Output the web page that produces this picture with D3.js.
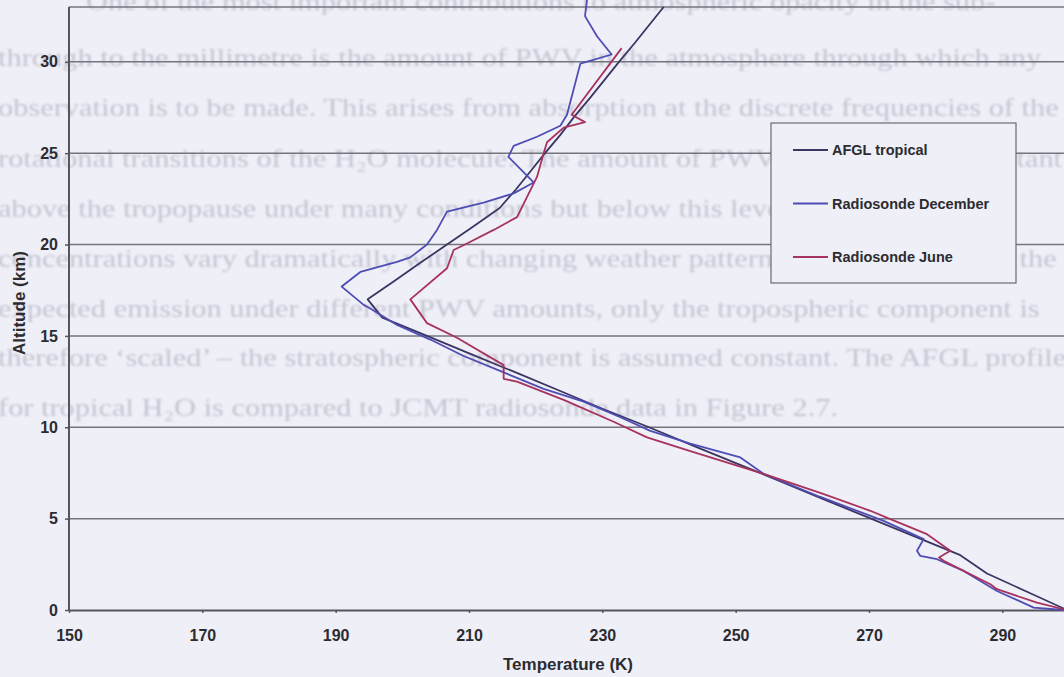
<!DOCTYPE html>
<html>
<head>
<meta charset="utf-8">
<script src="https://cdn.jsdelivr.net/npm/d3@7"></script>
<style>
  html, body { margin: 0; padding: 0; background: #efeff7; overflow: hidden; }
  svg { display: block; }
</style>
</head>
<body>
<svg id="chart" width="1064" height="677"></svg>
<script>
// Temperature profiles: [altitude km, temperature K]
const afglTropical = [
  [0, 299.7], [1, 293.7], [2, 287.7], [3, 283.7], [4, 277.0], [5, 270.3],
  [6, 263.6], [7, 257.0], [8, 250.3], [9, 243.6], [10, 237.0], [11, 230.1],
  [12, 223.6], [13, 217.0], [14, 210.3], [15, 203.7], [16, 197.0], [17, 194.8],
  [18, 198.8], [19, 202.7], [20, 206.7], [21, 210.7], [22, 214.6], [23, 217.0],
  [24, 219.2], [25, 221.4], [26, 223.7], [27, 225.8], [28, 228.1], [29, 230.3],
  [30, 232.5], [31, 234.8], [32, 237.0], [33, 239.2]
];

const radiosondeDecember = [
  [0.0, 299.3], [0.04, 297.7], [0.13, 294.7], [1.04, 289.2], [2.14, 284.2],
  [2.78, 280.2], [2.96, 277.7], [3.24, 277.2], [3.88, 278.2], [4.88, 272.2],
  [6.2, 262.6], [7.45, 254.2], [8.35, 250.7], [9.1, 243.2], [9.8, 237.2],
  [10.55, 232.7], [11.4, 227.2], [12.1, 221.2], [13.0, 215.2], [13.9, 209.2],
  [14.8, 204.2], [15.6, 199.2], [16.5, 195.2], [16.7, 194.2], [17.7, 190.9],
  [18.5, 193.7], [19.05, 199.2], [19.3, 201.2], [20.0, 203.7], [20.8, 205.2],
  [21.8, 206.7], [22.3, 212.2], [22.8, 216.7], [23.4, 219.7], [24.8, 215.9],
  [25.4, 216.7], [25.9, 220.2], [26.5, 223.7], [27.1, 224.7], [29.9, 226.7],
  [30.4, 231.4], [31.4, 229.2], [32.5, 227.4], [33.4, 227.7]
];

const radiosondeJune = [
  [0.0, 299.6], [0.4, 295.2], [1.14, 289.2], [1.41, 288.2], [2.69, 281.2],
  [2.87, 280.5], [3.24, 282.2], [4.15, 278.7], [4.97, 273.2], [5.43, 270.2],
  [6.4, 262.8], [7.45, 254.2], [8.7, 243.2], [9.45, 236.7], [10.3, 231.7],
  [11.5, 224.2], [12.5, 217.2], [12.65, 215.2], [13.4, 215.2], [14.9, 208.2],
  [15.7, 203.7], [17.0, 201.2], [18.7, 206.7], [19.7, 207.7], [20.06, 209.7],
  [20.8, 213.7], [21.5, 217.2], [23.7, 220.2], [25.0, 221.2], [25.6, 221.7],
  [26.4, 224.2], [26.7, 227.4], [27.1, 225.4], [30.75, 232.9]
];

const seriesNames = ["AFGL tropical", "Radiosonde December", "Radiosonde June"];
const seriesColors = ["#3b3563", "#4d4db5", "#a8325e"];

const xTicks = [150, 170, 190, 210, 230, 250, 270, 290];
const yTicks = [0, 5, 10, 15, 20, 25, 30];

// Page text printed behind the figure
const pageLines = [
  "One of the most important contributions to atmospheric opacity in the sub-",
  "through to the millimetre is the amount of PWV in the atmosphere through which any",
  "observation is to be made. This arises from absorption at the discrete frequencies of the",
  "rotational transitions of the H\u2082O molecule. The amount of PWV remains fairly constant",
  "above the tropopause under many conditions but below this level water vapour",
  "concentrations vary dramatically with changing weather patterns. In order to model the",
  "expected emission under different PWV amounts, only the tropospheric component is",
  "therefore \u2018scaled\u2019 \u2013 the stratospheric component is assumed constant. The AFGL profile",
  "for tropical H\u2082O is compared to JCMT radiosonde data in Figure 2.7."
];

const svg = d3.select("#chart");
const W = 1064, H = 677;
const plot = { left: 69, right: 1069, top: 7, bottom: 610 };

const x = d3.scaleLinear().domain([150, 300]).range([plot.left, plot.right]);
const y = d3.scaleLinear().domain([0, 33]).range([plot.bottom, plot.top]);

svg.append("rect").attr("width", W).attr("height", H).attr("fill", "#efeff7");

// soft backdrop text
const defs = svg.append("defs");
defs.append("filter").attr("id", "soft")
  .append("feGaussianBlur").attr("stdDeviation", 0.8);

const lineStarts = [86, -2, -2, -2, -2, -2, -2, -2, -2];
const lineBase = [10, 66, 116, 167, 217, 267, 317, 366, 416];
svg.append("g")
  .attr("filter", "url(#soft)")
  .attr("transform", "scale(1.17,1)")
  .selectAll("text")
  .data(pageLines)
  .join("text")
  .attr("x", (d, i) => lineStarts[i] / 1.17)
  .attr("y", (d, i) => lineBase[i])
  .attr("font-family", "'Liberation Serif', 'Times New Roman', serif")
  .attr("font-size", 26)
  .attr("fill", "#c5c5d4")
  .text(d => d);

// horizontal gridlines
svg.append("g")
  .selectAll("line")
  .data(yTicks.filter(v => v > 0).concat([33]))
  .join("line")
  .attr("x1", plot.left).attr("x2", plot.right)
  .attr("y1", d => y(d)).attr("y2", d => y(d))
  .attr("stroke", "#74747c")
  .attr("stroke-width", 1.5);

// axes
const xAxis = svg.append("g")
  .attr("transform", `translate(0,${plot.bottom})`)
  .call(d3.axisBottom(x).tickValues(xTicks).tickSize(3).tickPadding(17).tickSizeOuter(0));
const yAxis = svg.append("g")
  .attr("transform", `translate(${plot.left},0)`)
  .call(d3.axisLeft(y).tickValues(yTicks).tickSize(4).tickPadding(7).tickSizeOuter(0));

[xAxis, yAxis].forEach(g => {
  g.select(".domain").attr("stroke", "#55555c").attr("stroke-width", 2);
  g.selectAll(".tick line").attr("stroke", "#55555c").attr("stroke-width", 1.5);
  g.selectAll(".tick text")
    .attr("font-family", "'Liberation Sans', Arial, sans-serif")
    .attr("font-size", 16)
    .attr("font-weight", "bold")
    .attr("fill", "#2c2c30");
});
yAxis.select(".domain").attr("d", `M0,${plot.top}V${plot.bottom}`);

// axis titles
svg.append("text")
  .attr("x", 568).attr("y", 670)
  .attr("text-anchor", "middle")
  .attr("font-family", "'Liberation Sans', Arial, sans-serif")
  .attr("font-size", 17).attr("font-weight", "bold").attr("fill", "#2c2c30")
  .text("Temperature (K)");

svg.append("text")
  .attr("transform", "translate(25,303) rotate(-90)")
  .attr("text-anchor", "middle")
  .attr("font-family", "'Liberation Sans', Arial, sans-serif")
  .attr("font-size", 17).attr("font-weight", "bold").attr("fill", "#2c2c30")
  .text("Altitude (km)");

// profiles
const line = d3.line().x(d => x(d[1])).y(d => y(d[0]));
const profiles = [afglTropical, radiosondeDecember, radiosondeJune];
svg.append("g")
  .selectAll("path")
  .data(profiles)
  .join("path")
  .attr("d", line)
  .attr("fill", "none")
  .attr("stroke", (d, i) => seriesColors[i])
  .attr("stroke-width", 1.8)
  .attr("stroke-linejoin", "round");

// legend
const legend = svg.append("g").attr("transform", "translate(771,123)");
legend.append("rect")
  .attr("width", 245).attr("height", 160)
  .attr("fill", "#efeff7")
  .attr("stroke", "#6a6a72").attr("stroke-width", 1.2);
const items = legend.selectAll("g.item")
  .data(seriesNames)
  .join("g")
  .attr("class", "item")
  .attr("transform", (d, i) => `translate(0,${27 + i * 53.5})`);
items.append("line")
  .attr("x1", 22).attr("x2", 57)
  .attr("stroke", (d, i) => seriesColors[i])
  .attr("stroke-width", 2);
items.append("text")
  .attr("x", 61).attr("dy", "0.35em")
  .attr("font-family", "'Liberation Sans', Arial, sans-serif")
  .attr("font-size", 14.5).attr("font-weight", "bold").attr("fill", "#2c2c30")
  .text(d => d);
</script>
</body>
</html>
